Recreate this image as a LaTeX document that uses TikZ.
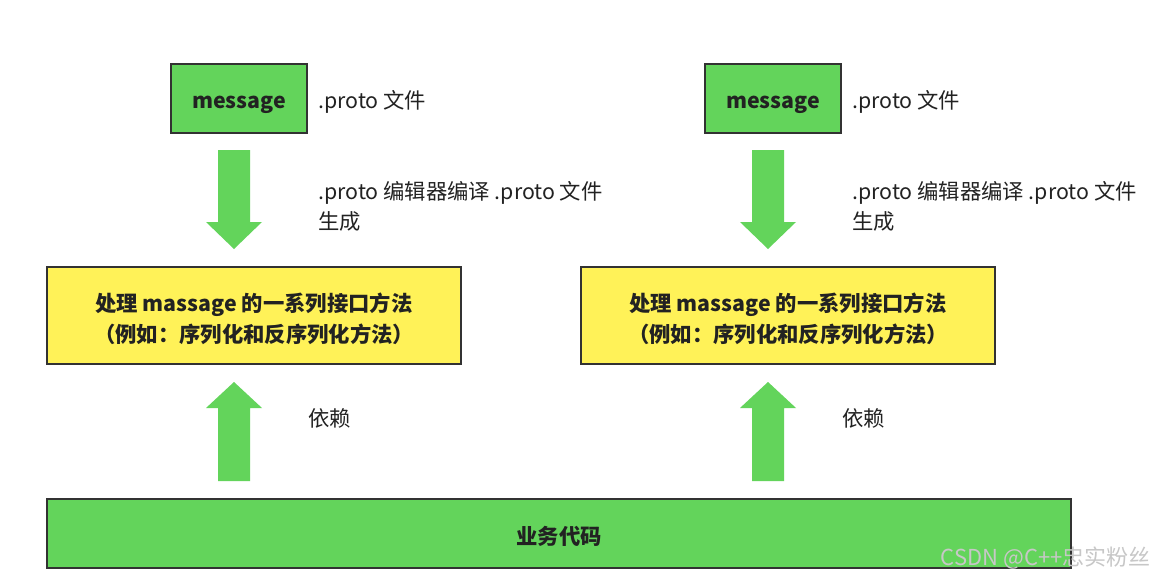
\documentclass[tikz,border=0pt]{standalone}
\usepackage{fontspec}
\setmainfont{Noto Sans CJK SC}
\usetikzlibrary{positioning}
\definecolor{boxgreen}{RGB}{99,212,91}
\definecolor{boxyellow}{RGB}{255,242,88}
\definecolor{edge}{RGB}{50,50,50}
\definecolor{txt}{RGB}{34,34,34}
\begin{document}
\begin{tikzpicture}[x=0.75pt,y=-0.75pt,
  greenbox/.style={draw=edge,line width=1pt,fill=boxgreen,inner sep=0pt,font=\fontsize{16}{18}\selectfont\bfseries,text=txt},
  yellowbox/.style={draw=edge,line width=1pt,fill=boxyellow,inner sep=0pt},
  boxtext/.style={inner sep=0pt,align=center,font=\fontsize{16}{23}\selectfont\bfseries,text=txt},
  lbl/.style={anchor=west,inner sep=0pt,font=\fontsize{16}{23}\selectfont,text=txt,align=left},
  blockarrow/.style={fill=boxgreen,draw=none}]
\useasboundingbox (0,0) rectangle (1154,579);
\fill[white] (0,0) rectangle (1154,579);
\foreach \dx/\s in {0/L,534/R}{
  \begin{scope}[xshift=\dx*0.75pt]
  \node[greenbox,minimum width=136*0.75pt,minimum height=69*0.75pt,text height=15.3pt,text depth=0pt] (msg\s) at (239,98.5) {message};
  \node[lbl] (file\s) at (318,102) {.proto 文件};
  \node[yellowbox,minimum width=414*0.75pt,minimum height=97*0.75pt] (proc\s) at (254,315.5) {};
  \node[boxtext] (proctext\s) at ([yshift=-2.25pt]proc\s.center) {处理 massage 的一系列接口方法\\（例如：序列化和反序列化方法）};
  \node[lbl] (gen\s) at (318,206.5) {.proto 编辑器编译 .proto 文件\\生成};
  \node[lbl] (dep\s) at (308,418) {依赖};
  \path[blockarrow] (218,150) -- (250,150) -- (250,222) -- (262,222) -- (234,249) -- (206,222) -- (218,222) -- cycle;
  \path[blockarrow] (218,481) -- (250,481) -- (250,408) -- (262,408) -- (234,382) -- (206,408) -- (218,408) -- cycle;
  \end{scope}
}
\node[greenbox,minimum width=1024*0.75pt,minimum height=69*0.75pt,text height=17.2pt,text depth=0pt] (biz) at (559,533.5) {业务代码};
\node[anchor=east,inner sep=0pt,font=\fontsize{16.5}{18}\selectfont,text=black!22] (wm) at (1151,558) {CSDN @C++忠实粉丝};
\end{tikzpicture}
\end{document}
